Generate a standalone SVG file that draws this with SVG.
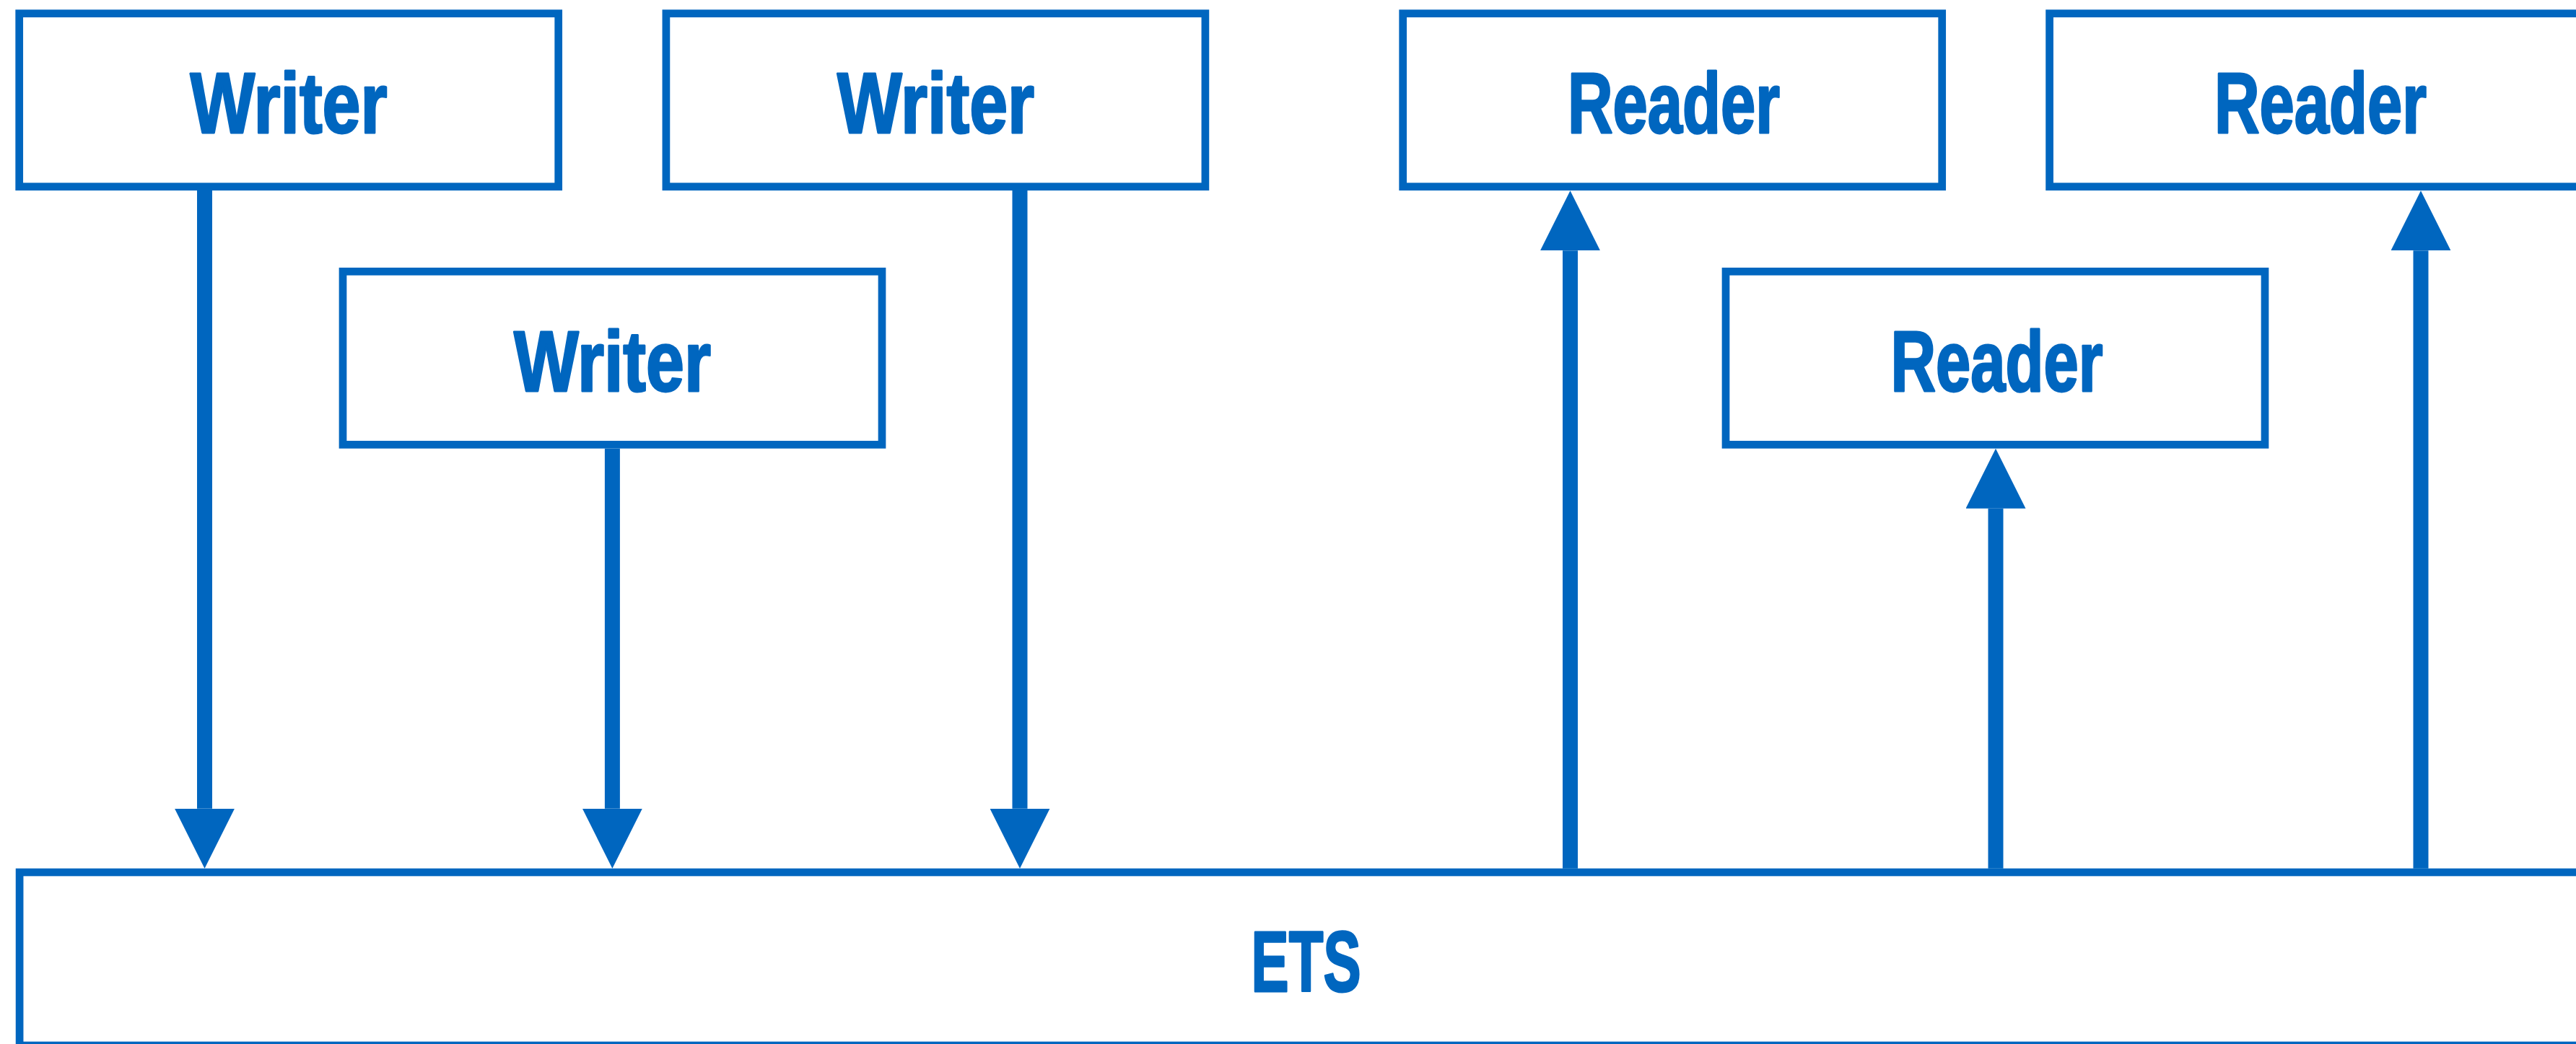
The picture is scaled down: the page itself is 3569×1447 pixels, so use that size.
<svg xmlns="http://www.w3.org/2000/svg" width="3569" height="1447" viewBox="0 0 3569 1447">
  <style>
    .box { fill: #ffffff; stroke: #0066bf; stroke-width: 10.7; }
    .label { font-family: "Liberation Sans", Arial, sans-serif; font-weight: bold; font-size: 118px; fill: #0066bf; stroke: #0066bf; stroke-width: 3; stroke-linejoin: round; text-anchor: middle; }
    .link { stroke: #0066bf; stroke-width: 21; fill: none; marker-end: url(#head); }
  </style>
  <defs>
    <marker id="head" markerUnits="userSpaceOnUse" viewBox="0 0 83 83" markerWidth="83" markerHeight="83" refX="0" refY="41.5" orient="auto">
      <path d="M0,0 L83,41.5 L0,83 Z" fill="#0066bf"/>
    </marker>
  </defs>
  <rect width="3569" height="1447" fill="#ffffff"/>

  <!-- storage table -->
  <g id="ets">
    <rect class="box" x="27.1" y="1209" width="3565" height="240"/>
    <text class="label" x="1809.6" y="1373.5" textLength="152" lengthAdjust="spacingAndGlyphs">ETS</text>
  </g>

  <!-- writer processes -->
  <g id="writer-1">
    <rect class="box" x="26.7" y="18.7" width="747" height="240"/>
    <text class="label" x="400" y="184.2" textLength="273" lengthAdjust="spacingAndGlyphs">Writer</text>
  </g>
  <g id="writer-2">
    <rect class="box" x="475" y="376.3" width="747" height="240"/>
    <text class="label" x="848.4" y="541.5" textLength="273" lengthAdjust="spacingAndGlyphs">Writer</text>
  </g>
  <g id="writer-3">
    <rect class="box" x="922.9" y="18.7" width="747" height="240"/>
    <text class="label" x="1296.6" y="184.2" textLength="273" lengthAdjust="spacingAndGlyphs">Writer</text>
  </g>

  <!-- reader processes -->
  <g id="reader-1">
    <rect class="box" x="1943.7" y="18.7" width="747" height="240"/>
    <text class="label" x="2319" y="184.2" textLength="294" lengthAdjust="spacingAndGlyphs">Reader</text>
  </g>
  <g id="reader-2">
    <rect class="box" x="2391" y="376.3" width="747" height="240"/>
    <text class="label" x="2766.5" y="541.5" textLength="294" lengthAdjust="spacingAndGlyphs">Reader</text>
  </g>
  <g id="reader-3">
    <rect class="box" x="2839.6" y="18.7" width="747" height="240"/>
    <text class="label" x="3215" y="184.2" textLength="294" lengthAdjust="spacingAndGlyphs">Reader</text>
  </g>

  <!-- writes go down into the table, reads come up out of it -->
  <g id="connectors">
    <line class="link" x1="283.5" y1="264" x2="283.5" y2="1120.7"/>
    <line class="link" x1="848.4" y1="621.7" x2="848.4" y2="1120.7"/>
    <line class="link" x1="1413" y1="264" x2="1413" y2="1120.7"/>
    <line class="link" x1="2175.5" y1="1203.7" x2="2175.5" y2="347.3"/>
    <line class="link" x1="2765" y1="1203.7" x2="2765" y2="704.7"/>
    <line class="link" x1="3354" y1="1203.7" x2="3354" y2="347.3"/>
  </g>
</svg>
